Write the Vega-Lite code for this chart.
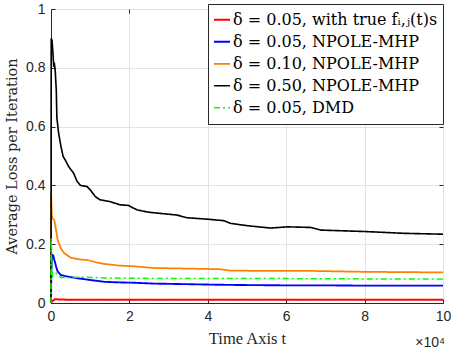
{
  "$schema": "https://vega.github.io/schema/vega-lite/v6.json",
  "width": 392,
  "height": 294,
  "autosize": {"type": "none"},
  "padding": {"left": 51, "top": 9, "right": 8, "bottom": 50},
  "background": "white",
  "config": {
    "view": {"stroke": "#262626", "strokeWidth": 1},
    "axis": {
      "labelFont": "Liberation Sans",
      "labelFontSize": 14,
      "labelColor": "#262626",
      "labelFlush": false,
      "titleFont": "Liberation Serif",
      "titleFontSize": 16.5,
      "titleFontWeight": "normal",
      "titleColor": "#262626",
      "gridColor": "#E3E3E3",
      "gridWidth": 1,
      "domainColor": "#262626",
      "tickColor": "#262626",
      "tickSize": -4,
      "labelPadding": 10
    },
    "legend": {
      "orient": "none",
      "legendX": 157,
      "legendY": -5,
      "strokeColor": "#262626",
      "fillColor": "white",
      "padding": 5,
      "labelFont": "DejaVu Serif",
      "labelFontSize": 16,
      "labelColor": "#000000",
      "labelLimit": 0,
      "symbolType": "stroke",
      "symbolSize": 256,
      "symbolStrokeWidth": 1.5,
      "labelOffset": 2,
      "rowPadding": 0,
      "clipHeight": 21.5,
      "cornerRadius": 0
    }
  },
  "datasets": {
    "lines": [
      {"series": "δ = 0.05, with true fᵢ,ⱼ(t)s", "t": 0, "loss": 0},
      {"series": "δ = 0.05, with true fᵢ,ⱼ(t)s", "t": 0.02, "loss": 0.005},
      {"series": "δ = 0.05, with true fᵢ,ⱼ(t)s", "t": 0.1, "loss": 0.013},
      {"series": "δ = 0.05, with true fᵢ,ⱼ(t)s", "t": 0.2, "loss": 0.012},
      {"series": "δ = 0.05, with true fᵢ,ⱼ(t)s", "t": 0.5, "loss": 0.011},
      {"series": "δ = 0.05, with true fᵢ,ⱼ(t)s", "t": 1, "loss": 0.011},
      {"series": "δ = 0.05, with true fᵢ,ⱼ(t)s", "t": 2, "loss": 0.011},
      {"series": "δ = 0.05, with true fᵢ,ⱼ(t)s", "t": 4, "loss": 0.011},
      {"series": "δ = 0.05, with true fᵢ,ⱼ(t)s", "t": 6, "loss": 0.011},
      {"series": "δ = 0.05, with true fᵢ,ⱼ(t)s", "t": 8, "loss": 0.011},
      {"series": "δ = 0.05, with true fᵢ,ⱼ(t)s", "t": 10, "loss": 0.011},

      {"series": "δ = 0.05, NPOLE-MHP", "t": 0, "loss": 0},
      {"series": "δ = 0.05, NPOLE-MHP", "t": 0.01, "loss": 0.12},
      {"series": "δ = 0.05, NPOLE-MHP", "t": 0.04, "loss": 0.163},
      {"series": "δ = 0.05, NPOLE-MHP", "t": 0.06, "loss": 0.161},
      {"series": "δ = 0.05, NPOLE-MHP", "t": 0.085, "loss": 0.146},
      {"series": "δ = 0.05, NPOLE-MHP", "t": 0.11, "loss": 0.135},
      {"series": "δ = 0.05, NPOLE-MHP", "t": 0.13, "loss": 0.124},
      {"series": "δ = 0.05, NPOLE-MHP", "t": 0.17, "loss": 0.107},
      {"series": "δ = 0.05, NPOLE-MHP", "t": 0.25, "loss": 0.095},
      {"series": "δ = 0.05, NPOLE-MHP", "t": 0.42, "loss": 0.09},
      {"series": "δ = 0.05, NPOLE-MHP", "t": 0.68, "loss": 0.084},
      {"series": "δ = 0.05, NPOLE-MHP", "t": 1.02, "loss": 0.078},
      {"series": "δ = 0.05, NPOLE-MHP", "t": 1.36, "loss": 0.072},
      {"series": "δ = 0.05, NPOLE-MHP", "t": 1.76, "loss": 0.07},
      {"series": "δ = 0.05, NPOLE-MHP", "t": 2.11, "loss": 0.069},
      {"series": "δ = 0.05, NPOLE-MHP", "t": 2.62, "loss": 0.066},
      {"series": "δ = 0.05, NPOLE-MHP", "t": 3.5, "loss": 0.064},
      {"series": "δ = 0.05, NPOLE-MHP", "t": 4.3, "loss": 0.062},
      {"series": "δ = 0.05, NPOLE-MHP", "t": 5, "loss": 0.061},
      {"series": "δ = 0.05, NPOLE-MHP", "t": 6, "loss": 0.06},
      {"series": "δ = 0.05, NPOLE-MHP", "t": 7, "loss": 0.06},
      {"series": "δ = 0.05, NPOLE-MHP", "t": 8, "loss": 0.059},
      {"series": "δ = 0.05, NPOLE-MHP", "t": 9, "loss": 0.059},
      {"series": "δ = 0.05, NPOLE-MHP", "t": 10, "loss": 0.059},

      {"series": "δ = 0.10, NPOLE-MHP", "t": 0, "loss": 0},
      {"series": "δ = 0.10, NPOLE-MHP", "t": 0.005, "loss": 0.37},
      {"series": "δ = 0.10, NPOLE-MHP", "t": 0.02, "loss": 0.3},
      {"series": "δ = 0.10, NPOLE-MHP", "t": 0.04, "loss": 0.288},
      {"series": "δ = 0.10, NPOLE-MHP", "t": 0.085, "loss": 0.282},
      {"series": "δ = 0.10, NPOLE-MHP", "t": 0.13, "loss": 0.248},
      {"series": "δ = 0.10, NPOLE-MHP", "t": 0.17, "loss": 0.214},
      {"series": "δ = 0.10, NPOLE-MHP", "t": 0.25, "loss": 0.186},
      {"series": "δ = 0.10, NPOLE-MHP", "t": 0.34, "loss": 0.169},
      {"series": "δ = 0.10, NPOLE-MHP", "t": 0.51, "loss": 0.154},
      {"series": "δ = 0.10, NPOLE-MHP", "t": 0.68, "loss": 0.149},
      {"series": "δ = 0.10, NPOLE-MHP", "t": 0.93, "loss": 0.146},
      {"series": "δ = 0.10, NPOLE-MHP", "t": 1.19, "loss": 0.137},
      {"series": "δ = 0.10, NPOLE-MHP", "t": 1.36, "loss": 0.133},
      {"series": "δ = 0.10, NPOLE-MHP", "t": 1.76, "loss": 0.127},
      {"series": "δ = 0.10, NPOLE-MHP", "t": 2, "loss": 0.126},
      {"series": "δ = 0.10, NPOLE-MHP", "t": 2.62, "loss": 0.119},
      {"series": "δ = 0.10, NPOLE-MHP", "t": 3.5, "loss": 0.117},
      {"series": "δ = 0.10, NPOLE-MHP", "t": 4.3, "loss": 0.115},
      {"series": "δ = 0.10, NPOLE-MHP", "t": 4.58, "loss": 0.11},
      {"series": "δ = 0.10, NPOLE-MHP", "t": 6, "loss": 0.109},
      {"series": "δ = 0.10, NPOLE-MHP", "t": 6.7, "loss": 0.109},
      {"series": "δ = 0.10, NPOLE-MHP", "t": 8, "loss": 0.106},
      {"series": "δ = 0.10, NPOLE-MHP", "t": 10, "loss": 0.104},

      {"series": "δ = 0.50, NPOLE-MHP", "t": 0, "loss": 0},
      {"series": "δ = 0.50, NPOLE-MHP", "t": 0.005, "loss": 0.9},
      {"series": "δ = 0.50, NPOLE-MHP", "t": 0.025, "loss": 0.894},
      {"series": "δ = 0.50, NPOLE-MHP", "t": 0.05, "loss": 0.849},
      {"series": "δ = 0.50, NPOLE-MHP", "t": 0.07, "loss": 0.804},
      {"series": "δ = 0.50, NPOLE-MHP", "t": 0.09, "loss": 0.81},
      {"series": "δ = 0.50, NPOLE-MHP", "t": 0.11, "loss": 0.787},
      {"series": "δ = 0.50, NPOLE-MHP", "t": 0.12, "loss": 0.758},
      {"series": "δ = 0.50, NPOLE-MHP", "t": 0.135, "loss": 0.724},
      {"series": "δ = 0.50, NPOLE-MHP", "t": 0.15, "loss": 0.63},
      {"series": "δ = 0.50, NPOLE-MHP", "t": 0.195, "loss": 0.577},
      {"series": "δ = 0.50, NPOLE-MHP", "t": 0.255, "loss": 0.532},
      {"series": "δ = 0.50, NPOLE-MHP", "t": 0.31, "loss": 0.498},
      {"series": "δ = 0.50, NPOLE-MHP", "t": 0.365, "loss": 0.486},
      {"series": "δ = 0.50, NPOLE-MHP", "t": 0.45, "loss": 0.464},
      {"series": "δ = 0.50, NPOLE-MHP", "t": 0.58, "loss": 0.441},
      {"series": "δ = 0.50, NPOLE-MHP", "t": 0.66, "loss": 0.415},
      {"series": "δ = 0.50, NPOLE-MHP", "t": 0.75, "loss": 0.4},
      {"series": "δ = 0.50, NPOLE-MHP", "t": 0.92, "loss": 0.396},
      {"series": "δ = 0.50, NPOLE-MHP", "t": 1.0, "loss": 0.385},
      {"series": "δ = 0.50, NPOLE-MHP", "t": 1.13, "loss": 0.362},
      {"series": "δ = 0.50, NPOLE-MHP", "t": 1.25, "loss": 0.351},
      {"series": "δ = 0.50, NPOLE-MHP", "t": 1.5, "loss": 0.345},
      {"series": "δ = 0.50, NPOLE-MHP", "t": 1.76, "loss": 0.334},
      {"series": "δ = 0.50, NPOLE-MHP", "t": 1.97, "loss": 0.332},
      {"series": "δ = 0.50, NPOLE-MHP", "t": 2.19, "loss": 0.317},
      {"series": "δ = 0.50, NPOLE-MHP", "t": 2.44, "loss": 0.31},
      {"series": "δ = 0.50, NPOLE-MHP", "t": 2.62, "loss": 0.307},
      {"series": "δ = 0.50, NPOLE-MHP", "t": 3.22, "loss": 0.299},
      {"series": "δ = 0.50, NPOLE-MHP", "t": 3.47, "loss": 0.29},
      {"series": "δ = 0.50, NPOLE-MHP", "t": 4.0, "loss": 0.285},
      {"series": "δ = 0.50, NPOLE-MHP", "t": 4.41, "loss": 0.28},
      {"series": "δ = 0.50, NPOLE-MHP", "t": 4.58, "loss": 0.271},
      {"series": "δ = 0.50, NPOLE-MHP", "t": 5.0, "loss": 0.263},
      {"series": "δ = 0.50, NPOLE-MHP", "t": 5.6, "loss": 0.255},
      {"series": "δ = 0.50, NPOLE-MHP", "t": 6.03, "loss": 0.259},
      {"series": "δ = 0.50, NPOLE-MHP", "t": 6.62, "loss": 0.257},
      {"series": "δ = 0.50, NPOLE-MHP", "t": 6.88, "loss": 0.248},
      {"series": "δ = 0.50, NPOLE-MHP", "t": 8.03, "loss": 0.243},
      {"series": "δ = 0.50, NPOLE-MHP", "t": 9.0, "loss": 0.237},
      {"series": "δ = 0.50, NPOLE-MHP", "t": 10, "loss": 0.234},

      {"series": "δ = 0.05, DMD", "t": 0, "loss": 0},
      {"series": "δ = 0.05, DMD", "t": 0.005, "loss": 0.22},
      {"series": "δ = 0.05, DMD", "t": 0.02, "loss": 0.15},
      {"series": "δ = 0.05, DMD", "t": 0.04, "loss": 0.09},
      {"series": "δ = 0.05, DMD", "t": 0.08, "loss": 0.095},
      {"series": "δ = 0.05, DMD", "t": 0.13, "loss": 0.101},
      {"series": "δ = 0.05, DMD", "t": 0.17, "loss": 0.095},
      {"series": "δ = 0.05, DMD", "t": 0.25, "loss": 0.087},
      {"series": "δ = 0.05, DMD", "t": 0.5, "loss": 0.086},
      {"series": "δ = 0.05, DMD", "t": 0.8, "loss": 0.088},
      {"series": "δ = 0.05, DMD", "t": 1.0, "loss": 0.087},
      {"series": "δ = 0.05, DMD", "t": 1.5, "loss": 0.085},
      {"series": "δ = 0.05, DMD", "t": 2, "loss": 0.084},
      {"series": "δ = 0.05, DMD", "t": 4, "loss": 0.083},
      {"series": "δ = 0.05, DMD", "t": 6, "loss": 0.083},
      {"series": "δ = 0.05, DMD", "t": 8, "loss": 0.082},
      {"series": "δ = 0.05, DMD", "t": 10, "loss": 0.082}
    ],
    "note": [{"label": "×10⁴"}]
  },
  "resolve": {"axis": {"x": "independent", "y": "independent"}},
  "layer": [
    {
      "data": {"name": "lines"},
      "mark": {"type": "line", "interpolate": "linear"},
      "encoding": {
        "x": {
          "field": "t", "type": "quantitative",
          "scale": {"domain": [0, 10], "nice": false, "zero": false},
          "axis": {"orient": "bottom", "values": [0, 2, 4, 6, 8, 10], "format": "d", "title": "Time Axis t", "titlePadding": 7}
        },
        "y": {
          "field": "loss", "type": "quantitative",
          "scale": {"domain": [0, 1], "nice": false},
          "axis": {"orient": "left", "values": [0, 0.2, 0.4, 0.6, 0.8, 1], "format": ".1~f", "title": "Average Loss per Iteration", "titleFont": "DejaVu Serif", "titleFontSize": 14.5, "titlePadding": 6}
        },
        "color": {
          "field": "series", "type": "nominal",
          "scale": {
            "domain": ["δ = 0.05, with true fᵢ,ⱼ(t)s", "δ = 0.05, NPOLE-MHP", "δ = 0.10, NPOLE-MHP", "δ = 0.50, NPOLE-MHP", "δ = 0.05, DMD"],
            "range": ["#FF0000", "#0000FF", "#FF8000", "#000000", "#00FF00"]
          },
          "legend": {"title": null, "labelFont": "DejaVu Serif", "labelFontSize": 16, "labelLimit": 0}
        },
        "strokeDash": {
          "field": "series", "type": "nominal",
          "scale": {
            "domain": ["δ = 0.05, with true fᵢ,ⱼ(t)s", "δ = 0.05, NPOLE-MHP", "δ = 0.10, NPOLE-MHP", "δ = 0.50, NPOLE-MHP", "δ = 0.05, DMD"],
            "range": [[1, 0], [1, 0], [1, 0], [1, 0], [6, 3, 2, 3]]
          },
          "legend": {"title": null, "labelFont": "DejaVu Serif", "labelFontSize": 16, "labelLimit": 0}
        },
        "strokeWidth": {
          "field": "series", "type": "nominal",
          "scale": {
            "domain": ["δ = 0.05, with true fᵢ,ⱼ(t)s", "δ = 0.05, NPOLE-MHP", "δ = 0.10, NPOLE-MHP", "δ = 0.50, NPOLE-MHP", "δ = 0.05, DMD"],
            "range": [2, 1.5, 1.5, 1.5, 1.5]
          },
          "legend": null
        }
      }
    },
    {
      "data": {"name": "note"},
      "mark": {"type": "text", "align": "right", "baseline": "alphabetic", "dy": 44, "dx": 2, "font": "Liberation Sans", "fontSize": 14, "color": "#262626"},
      "encoding": {
        "x": {"datum": 10, "type": "quantitative", "scale": {"domain": [0, 10], "nice": false, "zero": false},
          "axis": {"orient": "top", "values": [0, 2, 4, 6, 8, 10], "labels": false, "title": null, "grid": false, "domain": false}},
        "y": {"datum": 0, "type": "quantitative", "scale": {"domain": [0, 1], "nice": false},
          "axis": {"orient": "right", "values": [0, 0.2, 0.4, 0.6, 0.8, 1], "labels": false, "title": null, "grid": false, "domain": false}},
        "text": {"field": "label"}
      }
    }
  ]
}
